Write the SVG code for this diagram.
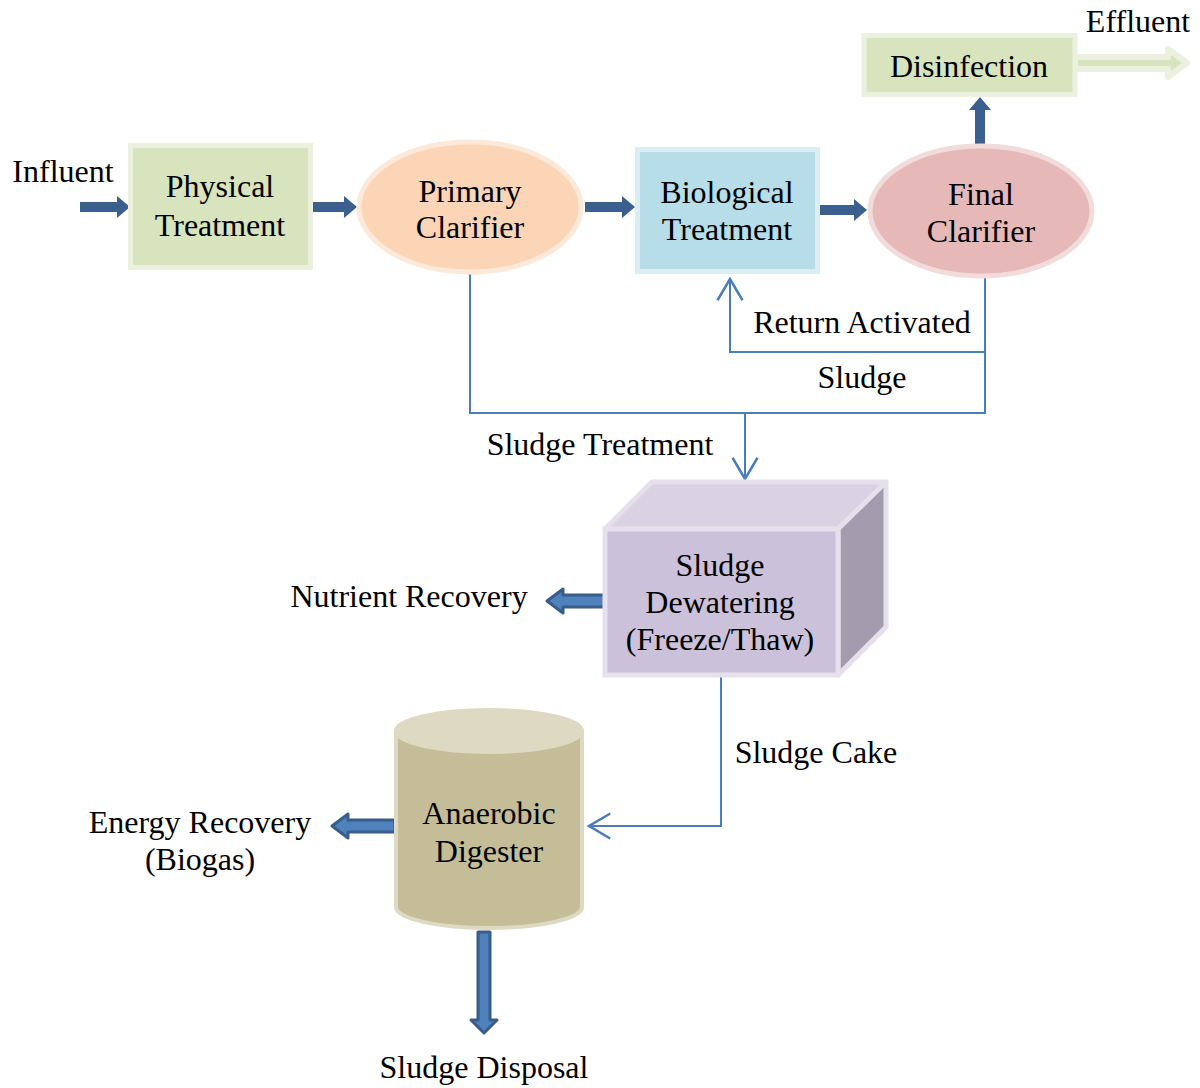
<svg xmlns="http://www.w3.org/2000/svg" width="1200" height="1088" viewBox="0 0 1200 1088">
<defs>
<style>
text{font-family:"Liberation Serif","Times New Roman",serif;font-size:32px;fill:#000;text-anchor:middle}
.ln{fill:none;stroke:#4a7ebb;stroke-width:2}
.flow{fill:#3b5f8e}
.out{fill:#4f81bd;stroke:#385d8a;stroke-width:3;stroke-linejoin:round}
</style>
<marker id="open" markerUnits="userSpaceOnUse" markerWidth="30" markerHeight="30" viewBox="-20 -12 24 24" refX="0" refY="0" orient="auto">
<path d="M-17,-10 L0,0 L-17,10" fill="none" stroke="#4a7ebb" stroke-width="2"/>
</marker>
<path id="fa" d="M0,-5 H37 V-11 L50,0 L37,11 V5 H0 Z"/>
</defs>
<rect width="1200" height="1088" fill="#fff"/>

<g id="connectors">
<use href="#fa" class="flow" transform="translate(80,207)"/>
<use href="#fa" class="flow" transform="translate(307,207)"/>
<use href="#fa" class="flow" transform="translate(585,207)"/>
<use href="#fa" class="flow" transform="translate(817,210)"/>
<use href="#fa" class="flow" transform="translate(980,147) rotate(-90)"/>
<path d="M1075,57 H1168 V49 L1187,63 L1168,77 V69 H1075 Z" fill="#d7e4bd" stroke="#ebf1de" stroke-width="6" stroke-linejoin="round"/>
<polyline class="ln" points="470,274 470,413 985,413 985,278"/>
<polyline class="ln" points="985,352 730,352 730,279" marker-end="url(#open)"/>
<polyline class="ln" points="745,413 745,479" marker-end="url(#open)"/>
<polyline class="ln" points="721,677 721,826 589,826" marker-end="url(#open)"/>
<path class="out" d="M605,595 H563 V589 L547,601 L563,613 V607 H605 Z"/>
<path class="out" d="M395,820 H348 V814 L332,826 L348,838 V832 H395 Z"/>
<path class="out" d="M478,932 V1020 H471 L484,1033 L497,1020 H490 V932 Z"/>
<text x="63" y="182">Influent</text>
<text x="1138" y="32">Effluent</text>
<text x="862" y="333">Return Activated</text>
<text x="862" y="388">Sludge</text>
<text x="600" y="455">Sludge Treatment</text>
<text x="409" y="607">Nutrient Recovery</text>
<text x="816" y="763">Sludge Cake</text>
<text x="200" y="833">Energy Recovery</text>
<text x="200" y="870">(Biogas)</text>
<text x="484" y="1078">Sludge Disposal</text>
</g>

<g id="physical">
<rect x="130.5" y="145.5" width="180" height="122" fill="#d7e4bd" stroke="#ebf1de" stroke-width="5"/>
<text x="220" y="197">Physical</text>
<text x="220" y="236">Treatment</text>
</g>

<g id="primary">
<ellipse cx="470" cy="207" rx="111" ry="65" fill="#fbd5b5" stroke="#fde9d9" stroke-width="5"/>
<text x="470" y="202">Primary</text>
<text x="470" y="238">Clarifier</text>
</g>

<g id="biological">
<rect x="637.5" y="149.5" width="180" height="122" fill="#b7dde8" stroke="#dbeef3" stroke-width="5"/>
<text x="727" y="203">Biological</text>
<text x="727" y="240">Treatment</text>
</g>

<g id="final">
<ellipse cx="981" cy="211" rx="111" ry="65" fill="#e6b9b8" stroke="#f2dcdb" stroke-width="5"/>
<text x="981" y="205">Final</text>
<text x="981" y="242">Clarifier</text>
</g>

<g id="disinfection">
<rect x="864" y="35.5" width="211" height="59" fill="#d7e4bd" stroke="#ebf1de" stroke-width="5"/>
<text x="969" y="77">Disinfection</text>
</g>

<g id="dewatering">
<polygon points="605,529 652,482 886,482 838,529" fill="#d9d2e3" stroke="#e5e0ec" stroke-width="5" stroke-linejoin="round"/>
<polygon points="838,529 886,482 886,627 838,675" fill="#a39bae" stroke="#e5e0ec" stroke-width="5" stroke-linejoin="round"/>
<rect x="605" y="529" width="233" height="146" fill="#ccc1da" stroke="#e5e0ec" stroke-width="5"/>
<text x="720" y="576">Sludge</text>
<text x="720" y="613">Dewatering</text>
<text x="720" y="650">(Freeze/Thaw)</text>
</g>

<g id="digester">
<path d="M396,731 V907 A93,21 0 0 0 582,907 V731 Z" fill="#c4bd97" stroke="#ddd9c3" stroke-width="4"/>
<ellipse cx="489" cy="731" rx="93" ry="21" fill="#ddd9c3" stroke="#ddd9c3" stroke-width="4"/>
<text x="489" y="824">Anaerobic</text>
<text x="489" y="862">Digester</text>
</g>
</svg>
